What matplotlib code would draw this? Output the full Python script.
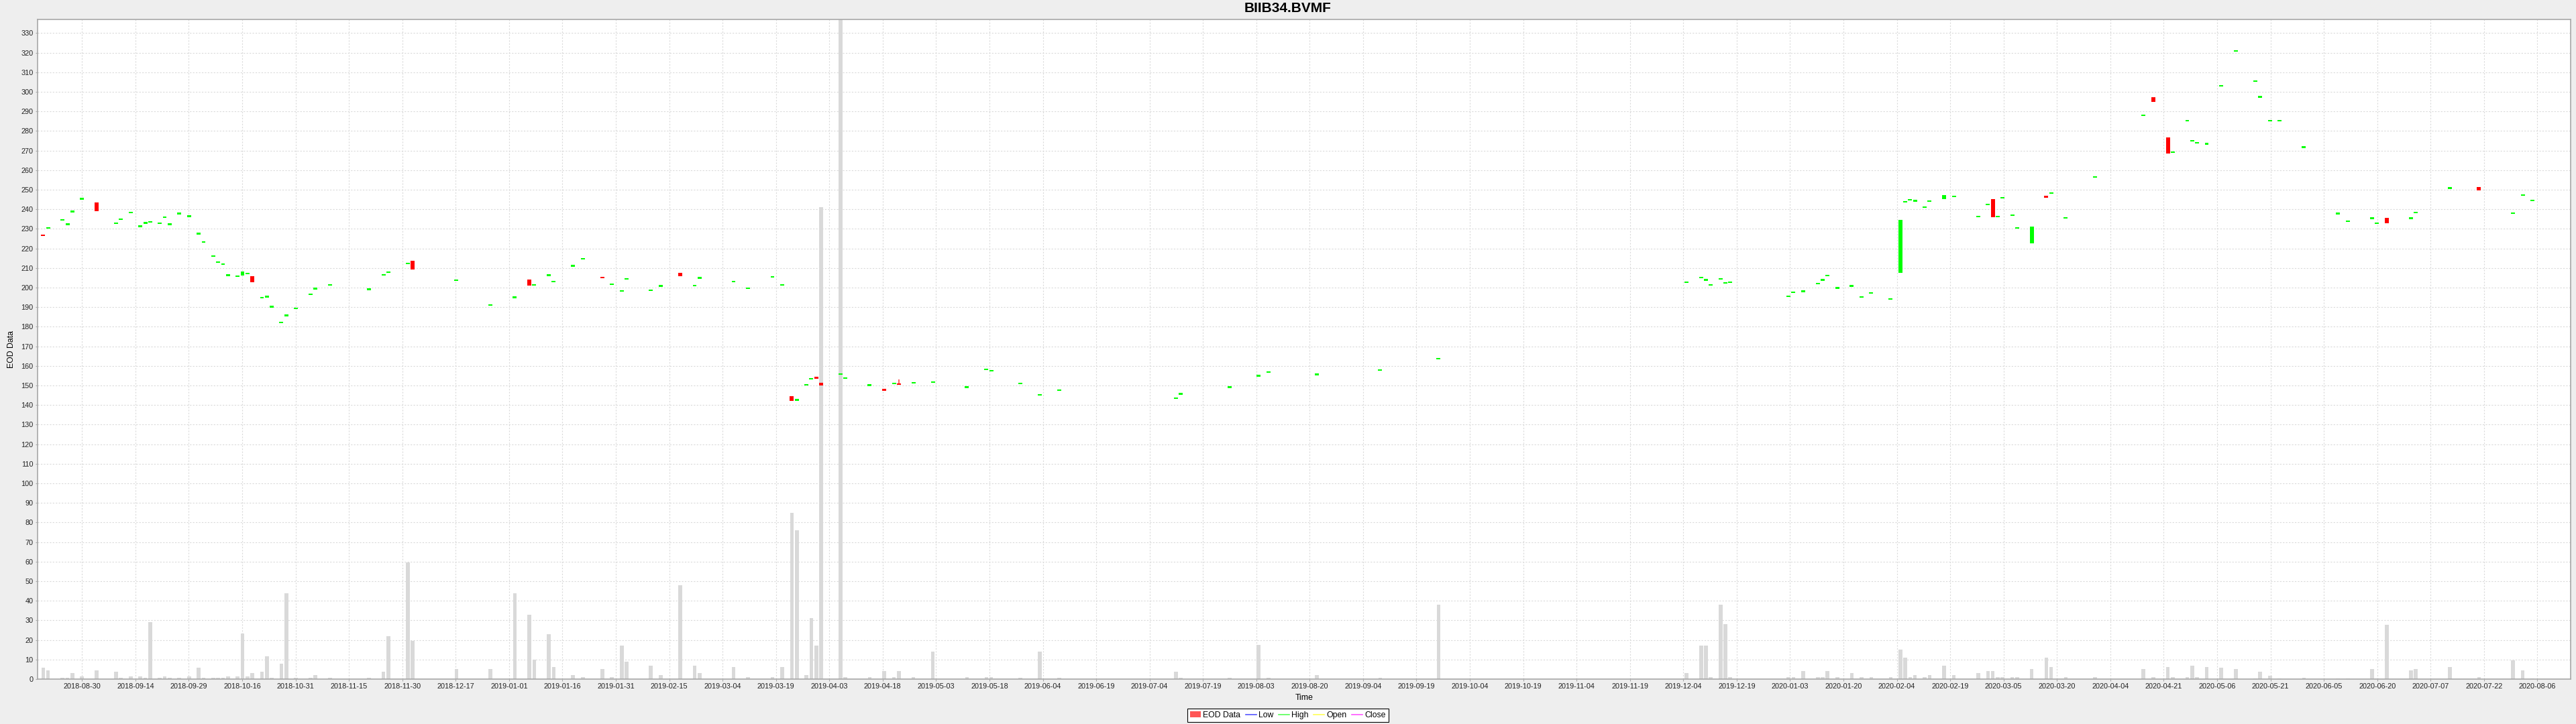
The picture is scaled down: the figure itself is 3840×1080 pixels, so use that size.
import numpy as np
import matplotlib
matplotlib.use("Agg")
import matplotlib.pyplot as plt
from matplotlib.lines import Line2D
from matplotlib.patches import Patch

title = "BIIB34.BVMF"

tick_labels = [
    "2018-08-30", "2018-09-14", "2018-09-29", "2018-10-16", "2018-10-31", "2018-11-15",
    "2018-11-30", "2018-12-17", "2019-01-01", "2019-01-16", "2019-01-31", "2019-02-15",
    "2019-03-04", "2019-03-19", "2019-04-03", "2019-04-18", "2019-05-03", "2019-05-18",
    "2019-06-04", "2019-06-19", "2019-07-04", "2019-07-19", "2019-08-03", "2019-08-20",
    "2019-09-04", "2019-09-19", "2019-10-04", "2019-10-19", "2019-11-04", "2019-11-19",
    "2019-12-04", "2019-12-19", "2020-01-03", "2020-01-20", "2020-02-04", "2020-02-19",
    "2020-03-05", "2020-03-20", "2020-04-04", "2020-04-21", "2020-05-06", "2020-05-21",
    "2020-06-05", "2020-06-20", "2020-07-07", "2020-07-22", "2020-08-06",
]

dates = [
    "2018-08-20", "2018-08-21", "2018-08-24", "2018-08-27", "2018-08-28", "2018-08-30", "2018-09-04", "2018-09-10", "2018-09-11", "2018-09-13",
    "2018-09-17", "2018-09-18", "2018-09-19", "2018-09-21", "2018-09-24", "2018-09-25", "2018-09-27", "2018-10-01", "2018-10-03", "2018-10-04",
    "2018-10-08", "2018-10-09", "2018-10-10", "2018-10-11", "2018-10-15", "2018-10-16", "2018-10-17", "2018-10-18", "2018-10-22", "2018-10-23",
    "2018-10-24", "2018-10-26", "2018-10-29", "2018-10-31", "2018-11-05", "2018-11-06", "2018-11-09", "2018-11-21", "2018-11-26", "2018-11-27",
    "2018-12-03", "2018-12-04", "2018-12-17", "2018-12-26", "2019-01-02", "2019-01-07", "2019-01-08", "2019-01-11", "2019-01-14", "2019-01-18",
    "2019-01-22", "2019-01-28", "2019-01-30", "2019-02-01", "2019-02-04", "2019-02-11", "2019-02-13", "2019-02-19", "2019-02-22", "2019-02-25",
    "2019-03-06", "2019-03-11", "2019-03-18", "2019-03-20", "2019-03-22", "2019-03-25", "2019-03-27", "2019-03-28", "2019-03-29", "2019-04-01",
    "2019-04-05", "2019-04-08", "2019-04-15", "2019-04-18", "2019-04-22", "2019-04-23", "2019-04-26", "2019-05-02", "2019-05-13", "2019-05-17",
    "2019-05-20", "2019-05-28", "2019-06-03", "2019-06-07", "2019-07-11", "2019-07-12", "2019-07-26", "2019-08-05", "2019-08-07", "2019-08-21",
    "2019-09-09", "2019-09-25", "2019-12-05", "2019-12-10", "2019-12-11", "2019-12-12", "2019-12-16", "2019-12-17", "2019-12-18", "2020-01-03",
    "2020-01-06", "2020-01-08", "2020-01-13", "2020-01-14", "2020-01-15", "2020-01-17", "2020-01-22", "2020-01-24", "2020-01-28", "2020-02-03",
    "2020-02-05", "2020-02-06", "2020-02-07", "2020-02-10", "2020-02-12", "2020-02-13", "2020-02-18", "2020-02-20", "2020-02-27", "2020-03-02",
    "2020-03-03", "2020-03-04", "2020-03-05", "2020-03-09", "2020-03-10", "2020-03-13", "2020-03-18", "2020-03-19", "2020-03-24", "2020-04-01",
    "2020-04-15", "2020-04-17", "2020-04-22", "2020-04-23", "2020-04-28", "2020-04-29", "2020-04-30", "2020-05-04", "2020-05-07", "2020-05-12",
    "2020-05-18", "2020-05-19", "2020-05-21", "2020-05-25", "2020-06-01", "2020-06-10", "2020-06-12", "2020-06-19", "2020-06-22", "2020-06-24",
    "2020-07-01", "2020-07-02", "2020-07-13", "2020-07-21", "2020-07-30", "2020-08-03", "2020-08-05",
]

opens = [
    227.0, 230.1, 234.1, 232.0, 238.5, 245.0, 243.4, 232.4, 234.5, 238.0,
    230.9, 232.7, 233.2, 232.5, 235.6, 232.0, 237.4, 236.1, 227.2, 222.8,
    215.6, 212.7, 211.7, 206.0, 205.4, 206.3, 206.8, 205.7, 194.4, 195.0,
    189.8, 181.8, 185.3, 188.9, 196.1, 199.1, 200.9, 198.8, 206.2, 207.4,
    212.0, 213.6, 203.4, 190.7, 194.6, 204.0, 200.9, 205.9, 202.6, 210.7,
    214.4, 205.5, 201.3, 197.9, 204.1, 198.2, 200.5, 207.6, 200.6, 204.6,
    202.8, 199.3, 205.2, 200.9, 144.5, 142.3, 150.0, 153.0, 154.4, 151.4,
    155.4, 153.3, 149.8, 148.2, 150.7, 151.0, 150.9, 151.3, 148.8, 157.9,
    157.2, 150.7, 144.8, 147.3, 143.0, 145.3, 148.8, 154.6, 156.5, 155.3,
    157.4, 163.2, 202.4, 204.7, 203.5, 201.0, 204.1, 202.1, 202.3, 195.2,
    197.1, 197.7, 201.7, 203.5, 205.7, 199.4, 200.5, 194.9, 196.9, 193.8,
    207.6, 243.4, 244.4, 244.0, 240.8, 243.8, 245.2, 246.1, 235.8, 242.0,
    245.3, 235.8, 245.5, 236.6, 230.0, 222.5, 246.9, 247.9, 235.2, 256.2,
    287.6, 297.2, 276.7, 268.7, 284.9, 274.5, 273.5, 273.1, 302.6, 320.6,
    305.2, 297.1, 284.8, 284.8, 271.4, 237.5, 233.6, 235.1, 232.5, 235.7,
    235.1, 237.9, 250.5, 251.4, 237.7, 246.9, 244.1,
]

closes = [
    226.4, 230.9, 234.9, 232.8, 239.3, 245.8, 239.0, 233.2, 235.3, 238.8,
    231.7, 233.5, 234.0, 233.3, 236.4, 232.8, 238.2, 236.9, 228.0, 223.6,
    216.4, 213.5, 212.5, 206.8, 206.2, 208.2, 207.6, 202.7, 195.2, 195.8,
    190.6, 182.6, 186.3, 189.7, 196.9, 199.9, 201.7, 199.6, 207.0, 208.2,
    212.8, 209.4, 204.2, 191.5, 195.4, 201.0, 201.7, 206.7, 203.4, 211.5,
    215.2, 204.7, 202.1, 198.7, 204.9, 199.0, 201.3, 205.8, 201.4, 205.4,
    203.6, 200.1, 206.0, 201.7, 142.2, 143.1, 150.8, 153.8, 153.6, 150.0,
    156.2, 154.1, 150.6, 147.4, 151.5, 150.4, 151.7, 152.1, 149.6, 158.7,
    158.0, 151.5, 145.6, 148.1, 143.8, 146.1, 149.6, 155.4, 157.3, 156.1,
    158.2, 164.0, 203.2, 205.5, 204.3, 201.8, 204.9, 202.9, 203.1, 196.0,
    197.9, 198.5, 202.5, 204.3, 206.5, 200.2, 201.3, 195.7, 197.7, 194.6,
    234.7, 244.2, 245.2, 244.8, 241.6, 244.6, 247.2, 246.9, 236.6, 242.8,
    236.0, 236.6, 246.3, 237.4, 230.8, 231.3, 246.0, 248.7, 236.0, 257.0,
    288.4, 294.9, 268.4, 269.5, 285.7, 275.3, 274.3, 273.9, 303.4, 321.4,
    306.0, 297.9, 285.6, 285.6, 272.2, 238.3, 234.4, 235.9, 233.3, 233.0,
    235.9, 238.7, 251.3, 249.8, 238.5, 247.7, 244.9,
]

volumes = [
    5.8, 4.3, 0.7, 0.7, 3.0, 1.4, 4.3, 3.7, 0.7, 1.4,
    1.4, 0.7, 29.1, 0.7, 1.4, 0.7, 0.7, 1.4, 5.8, 0.7,
    0.7, 0.7, 0.7, 1.4, 1.4, 23.3, 1.4, 3.0, 3.7, 11.6,
    0.7, 8.0, 43.7, 0.7, 0.7, 2.2, 0.7, 0.7, 3.7, 21.9,
    59.7, 19.6, 5.1, 5.0, 44.0, 33.0, 10.0, 23.0, 6.0, 2.0,
    1.0, 5.0, 1.0, 17.0, 9.0, 7.0, 2.0, 48.0, 7.0, 3.0,
    6.0, 1.0, 1.0, 6.0, 85.0, 76.0, 2.0, 31.0, 17.0, 241.0,
    420.0, 1.0, 1.0, 4.0, 1.0, 4.0, 1.0, 14.0, 1.0, 1.0,
    1.0, 0.7, 13.9, 0.7, 3.8, 0.7, 0.7, 17.6, 0.7, 2.2,
    0.7, 38.0, 3.0, 17.0, 17.0, 1.0, 38.0, 28.0, 1.0, 1.0,
    1.0, 4.0, 1.0, 1.0, 4.0, 1.0, 3.0, 1.0, 1.0, 1.0,
    15.0, 11.0, 1.0, 2.0, 1.0, 2.0, 7.0, 2.0, 3.0, 4.0,
    4.0, 1.0, 1.0, 1.0, 1.0, 5.0, 11.0, 6.0, 1.0, 1.0,
    5.0, 1.0, 6.0, 1.0, 1.0, 7.0, 1.0, 6.0, 5.9, 5.1,
    0.5, 3.7, 1.6, 0.3, 0.8, 0.3, 0.4, 5.0, 0.3, 27.9,
    4.5, 5.1, 6.2, 1.0, 9.6, 4.5, 0.5,
]

wick_dates = ["2019-04-23"]
wick_highs = [153.1]
wick_lows = [150.4]

plt.rcParams['font.family'] = ['Liberation Sans', 'DejaVu Sans']

# weekday-compressed time axis (weekends removed)
base = np.datetime64(tick_labels[0])
def bpos(ds):
    return np.busday_count(base, np.array(ds, dtype='datetime64[D]')).astype(float)

x = bpos(dates)
o = np.array(opens)
c = np.array(closes)
v = np.array(volumes)

fig = plt.figure(figsize=(38.4, 10.8), dpi=100, facecolor='#EEEEEE')
ax = fig.add_axes([56 / 3840, 67 / 1080, 3776 / 3840, 983.7 / 1080])
ax.set_facecolor('white')

# volume bars
ax.bar(x, v, width=0.78, color='#D9D9D9', zorder=2, linewidth=0)

# wicks
ax.vlines(bpos(wick_dates), wick_lows, wick_highs, color='#FF5555', linewidth=1.3, zorder=3)

# candle bodies
min_h = 0.75
h = np.maximum(np.abs(c - o), min_h)
mid = (o + c) / 2
colors = np.where(c >= o, '#00FF00', '#FF0000')
ax.bar(x, h, bottom=mid - h / 2, width=0.82, color=colors, zorder=4, linewidth=0)

# axes
tick_pos = np.linspace(0, bpos([tick_labels[-1]])[0], len(tick_labels))
ax.set_xticks(tick_pos)
ax.set_xticklabels(tick_labels)
ax.set_xlim(-9.15, 511.85)
ax.set_yticks(np.arange(0, 331, 10))
ax.set_ylim(0, 336.9)

ax.grid(True, color='#DADADA', linestyle=(0, (2, 2)), linewidth=0.8, zorder=1)
ax.set_axisbelow(True)
for s in ax.spines.values():
    s.set_color('#A8A8A8')
    s.set_linewidth(1.2)
ax.tick_params(axis='both', labelsize=7.8, length=2, width=0.8, color='#A8A8A8',
               labelcolor='#222222', pad=2.5)

ax.set_xlabel('Time', fontsize=8.8)
ax.xaxis.set_label_coords(0.5, -0.0285)
ax.xaxis.label.set_va('center')
ax.set_ylabel('EOD Data', fontsize=8.8)
ax.yaxis.set_label_coords(-39 / 3776, 0.5)
ax.yaxis.label.set_va('center')

fig.text(0.5, 1 - 13 / 1080, title, ha='center', va='center', fontsize=15, fontweight='bold')

handles = [
    Patch(facecolor='#FF5555', edgecolor='none', label='EOD Data'),
    Line2D([], [], color='#5555FF', lw=1.2, label='Low'),
    Line2D([], [], color='#55FF55', lw=1.2, label='High'),
    Line2D([], [], color='#FFFF55', lw=1.2, label='Open'),
    Line2D([], [], color='#FF55FF', lw=1.2, label='Close'),
]
leg = fig.legend(handles=handles, loc='center', bbox_to_anchor=(0.5, 1 - 1067 / 1080), ncol=5,
                 fontsize=8.8, frameon=True, fancybox=False, edgecolor='black', facecolor='white',
                 framealpha=1, handlelength=1.3, handleheight=0.8, handletextpad=0.3,
                 columnspacing=0.6, borderpad=0.3, borderaxespad=0)
leg.get_frame().set_linewidth(0.8)

fig.savefig('out.png', dpi=100, facecolor=fig.get_facecolor())
